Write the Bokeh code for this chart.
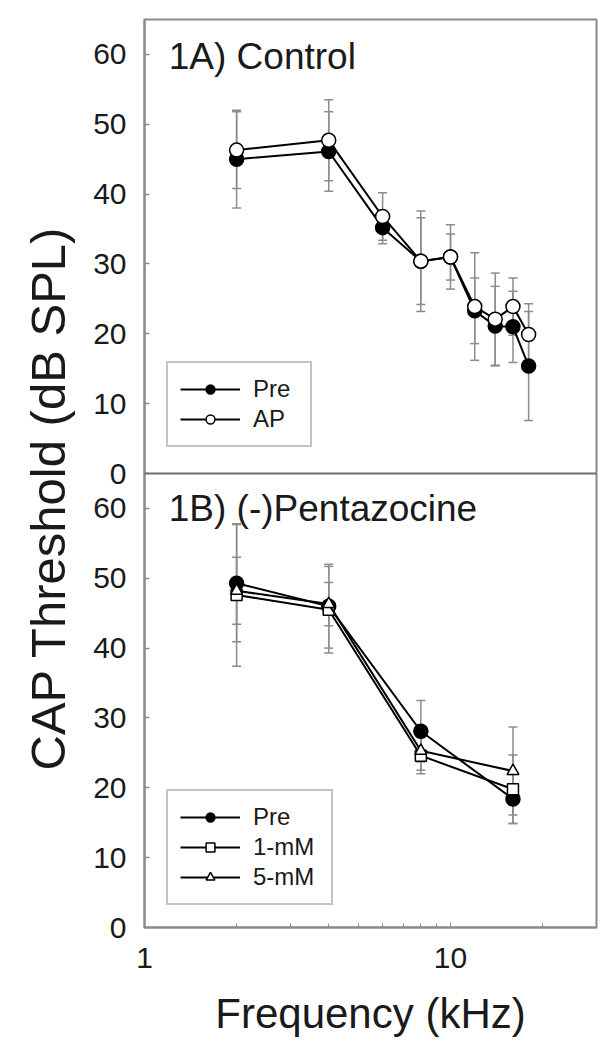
from bokeh.plotting import figure
from bokeh.models import (Range1d, FixedTicker, Whisker, TeeHead, ColumnDataSource,
                          Legend, LegendItem, Label, Span, Title)
from bokeh.embed import file_html
from bokeh.resources import INLINE

# ---------------- data ----------------
# Panel 1A) Control
freq_a = [2, 4, 6, 8, 10, 12, 14, 16, 18]
pre_a = [45.0, 46.1, 35.2, 30.4, 31.0, 23.3, 21.1, 21.0, 15.4]
pre_a_err = [7.0, 5.7, 2.3, 6.2, 4.6, 4.7, 5.7, 5.1, 7.8]
ap_a = [46.3, 47.7, 36.8, 30.4, 31.0, 23.9, 22.1, 23.9, 19.9]
ap_a_err = [5.5, 5.8, 3.4, 7.2, 3.3, 7.7, 6.6, 4.1, 4.4]

# Panel 1B) (-)Pentazocine
freq_b = [2, 4, 8, 16]
pre_b = [49.3, 46.0, 28.1, 18.4]
pre_b_err = [8.4, 6.0, 4.4, 3.5]
mm1_b = [47.6, 45.5, 24.6, 19.8]
mm1_b_err = [10.2, 6.2, 2.6, 4.9]
mm5_b = [48.2, 46.3, 25.3, 22.4]
mm5_b_err = [4.8, 3.1, 2.8, 6.3]

y_ticks = [0, 10, 20, 30, 40, 50, 60]
x_major = [1, 10]
x_minor = [2, 3, 4, 5, 6, 7, 8, 9, 20, 30]
PANEL_MAX = 65

FONT = "Liberation Sans"
TXT = "#1a1a1a"
GRAY = "#8a8a8a"
ERR = "#8c8c8c"

p = figure(width=600, height=1049, x_axis_type="log",
           x_range=Range1d(1, 30), y_range=Range1d(0, 2 * PANEL_MAX),
           output_backend="svg", toolbar_location=None,
           min_border_left=144, min_border_right=4,
           min_border_top=19, min_border_bottom=122)
p.extra_y_ranges = {"top": Range1d(-PANEL_MAX, PANEL_MAX)}
p.xgrid.visible = False
p.ygrid.visible = False
p.background_fill_color = "white"
p.outline_line_color = GRAY
p.outline_line_width = 2

y_all = y_ticks + [t + PANEL_MAX for t in y_ticks]

# y axis (shared for both panels)
yax = p.yaxis[0]
yax.ticker = FixedTicker(ticks=y_all)
ov = {t: str(t) for t in y_ticks}
ov.update({t + PANEL_MAX: str(t) for t in y_ticks})
yax.major_label_overrides = ov
yax.major_label_text_font = FONT
yax.major_label_text_font_size = "30px"
yax.major_label_text_color = TXT
yax.major_label_standoff = 18
yax.major_tick_in = 5
yax.major_tick_out = 0
yax.minor_tick_in = 0
yax.minor_tick_out = 0
yax.axis_line_color = GRAY
yax.axis_line_width = 2
yax.major_tick_line_color = GRAY
yax.major_tick_line_width = 1.5

xax = p.xaxis[0]
xax.ticker = FixedTicker(ticks=x_major, minor_ticks=x_minor)
xax.major_label_overrides = {1: "1", 10: "10"}
xax.axis_label = "Frequency (kHz)"
xax.axis_label_text_font = FONT
xax.axis_label_text_font_size = "42px"
xax.axis_label_text_font_style = "normal"
xax.axis_label_text_color = TXT
xax.axis_label_standoff = 19
xax.major_label_text_font = FONT
xax.major_label_text_font_size = "30px"
xax.major_label_text_color = TXT
xax.major_label_standoff = 20
xax.major_tick_in = 5
xax.major_tick_out = 0
xax.minor_tick_in = 4
xax.minor_tick_out = 0
xax.axis_line_color = GRAY
xax.axis_line_width = 2
xax.major_tick_line_color = GRAY
xax.minor_tick_line_color = GRAY

# y-axis title spanning both panels (sits a little below the middle in the original)
ytitle = Title(text="CAP Threshold (dB SPL)", align="left", offset=157, standoff=31,
               text_font=FONT, text_font_size="49px", text_font_style="normal",
               text_color=TXT)
p.add_layout(ytitle, "left")

# boundary between panels
p.add_layout(Span(location=0, dimension="width", y_range_name="top",
                  line_color="#6e6e6e", line_width=2))


def errbars(x, y, e, rng):
    src = ColumnDataSource(dict(x=x, upper=[a + b for a, b in zip(y, e)],
                                lower=[a - b for a, b in zip(y, e)]))
    kw = {} if rng is None else {"y_range_name": rng}
    w = Whisker(base="x", upper="upper", lower="lower", source=src,
                line_color=ERR, line_width=1.5,
                upper_head=TeeHead(size=9, line_color=ERR, line_width=1.5),
                lower_head=TeeHead(size=9, line_color=ERR, line_width=1.5), **kw)
    p.add_layout(w)


def series(x, y, marker, fill, size, rng):
    kw = {} if rng is None else {"y_range_name": rng}
    ln = p.line(x, y, line_color="black", line_width=2, **kw)
    sc = p.scatter(x, y, marker=marker, size=size, fill_color=fill,
                   line_color="black", line_width=1.5, **kw)
    return [ln, sc]


# Panel A
errbars(freq_a, pre_a, pre_a_err, "top")
errbars(freq_a, ap_a, ap_a_err, "top")
r_pre_a = series(freq_a, pre_a, "circle", "black", 14, "top")
r_ap_a = series(freq_a, ap_a, "circle", "white", 14, "top")

# Panel B
errbars(freq_b, pre_b, pre_b_err, None)
errbars(freq_b, mm1_b, mm1_b_err, None)
errbars(freq_b, mm5_b, mm5_b_err, None)
r_pre_b = series(freq_b, pre_b, "circle", "black", 14, None)
r_mm1_b = series(freq_b, mm1_b, "square", "white", 11, None)
r_mm5_b = series(freq_b, mm5_b, "triangle", "white", 12, None)

# panel titles
p.add_layout(Label(x=1.2, y=59.7, y_range_name="top", text="1A) Control",
                   text_font=FONT, text_font_size="37px", text_color=TXT,
                   text_baseline="alphabetic"))
p.add_layout(Label(x=1.2, y=60.0, text="1B) (-)Pentazocine",
                   text_font=FONT, text_font_size="37px", text_color=TXT,
                   text_baseline="alphabetic"))


def make_legend(items, loc, label_w):
    lg = Legend(items=items, location=loc, margin=0, padding=12,
                spacing=2, glyph_width=60, glyph_height=22,
                label_standoff=13, label_width=label_w, label_text_font=FONT,
                label_text_font_size="24px", label_text_color=TXT,
                label_height=26, border_line_color=GRAY, border_line_width=2,
                background_fill_alpha=1.0)
    p.add_layout(lg)


make_legend([LegendItem(label="Pre", renderers=r_pre_a),
             LegendItem(label="AP", renderers=r_ap_a)], (22, 480), 45)
make_legend([LegendItem(label="Pre", renderers=r_pre_b),
             LegendItem(label="1-mM", renderers=r_mm1_b),
             LegendItem(label="5-mM", renderers=r_mm5_b)], (22, 22), 66)

open("out.html", "w").write(file_html(p, INLINE))
